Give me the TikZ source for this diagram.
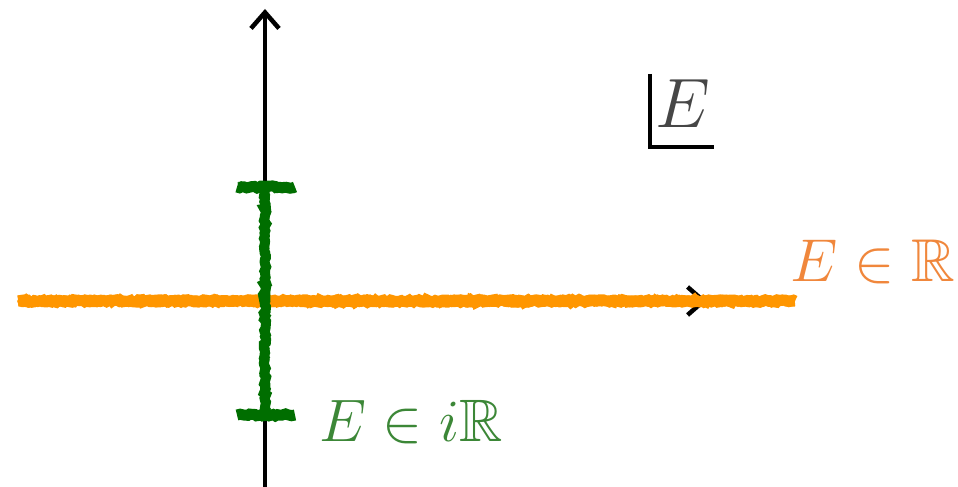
\documentclass[tikz,border=0pt]{standalone}
\usepackage{amssymb}
\usetikzlibrary{arrows.meta,decorations.pathmorphing}
\definecolor{crayorange}{RGB}{255,150,0}
\definecolor{craygreen}{RGB}{0,110,0}
\definecolor{lblorange}{RGB}{240,135,60}
\definecolor{lblgreen}{RGB}{60,135,55}
\definecolor{lblgray}{RGB}{70,70,70}
\tikzset{
  axis/.style={line width=4.5pt,black,-{Straight Barb[length=16pt,width=28pt,line width=4.5pt]}},
  crayon/.style={line width=#1,line cap=butt,decorate,decoration={random steps,segment length=2.5pt,amplitude=1.2pt}},
  bigtext/.style={inner sep=0pt,anchor=base west},
}
\begin{document}
\begin{tikzpicture}[x=1pt,y=1pt]
\useasboundingbox (0,0) rectangle (958,487);
% coordinates
\coordinate (vbot) at (265,0);
\coordinate (vtop) at (265,478);
\coordinate (hleft) at (22,186);
\coordinate (hright) at (707,186);
\coordinate (oleft) at (18,186);
\coordinate (oright) at (795,186);
\coordinate (gtop) at (265,300);
\coordinate (gbot) at (265,72);
\coordinate (gtl) at (237,300);
\coordinate (gtr) at (295,300);
\coordinate (gbl) at (237,72);
\coordinate (gbr) at (295,72);
% axes
\draw[axis] (vbot) -- (vtop);
\draw[axis] (hleft) -- (hright);
% orange crayon
\draw[crayorange,crayon=11pt] (oleft) -- (oright);
\draw[crayorange,crayon=6pt] ([yshift=2.5pt]oleft) -- ([yshift=2.5pt]oright);
\draw[crayorange,crayon=6pt] ([yshift=-2.5pt]oleft) -- ([yshift=-2.5pt]oright);
% green crayon
\draw[craygreen,crayon=10pt] (gbot) -- (gtop);
\draw[craygreen,crayon=5pt] ([xshift=1.5pt]gbot) -- ([xshift=1.5pt]gtop);
\draw[craygreen,crayon=11pt] (gtl) -- (gtr);
\draw[craygreen,crayon=11pt] (gbl) -- (gbr);
% labels
\node[bigtext,text=lblorange] (lreal) at (790,205) {\scalebox{2.43}{\Huge$E \in \mathbb{R}$}};
\node[bigtext,text=lblgreen] (limag) at (319,45) {\scalebox{2.41}{\Huge$E \in i\mathbb{R}$}};
% corner E
\node[bigtext,text=lblgray] (ebox) at (655,359) {\scalebox{2.81}{\Huge$E$}};
\coordinate (ctop) at (650,413);
\coordinate (ccorner) at (650,340);
\coordinate (cright) at (714,340);
\draw[line width=4pt,black] (ctop) -- (ccorner) -- (cright);
\end{tikzpicture}
\end{document}
